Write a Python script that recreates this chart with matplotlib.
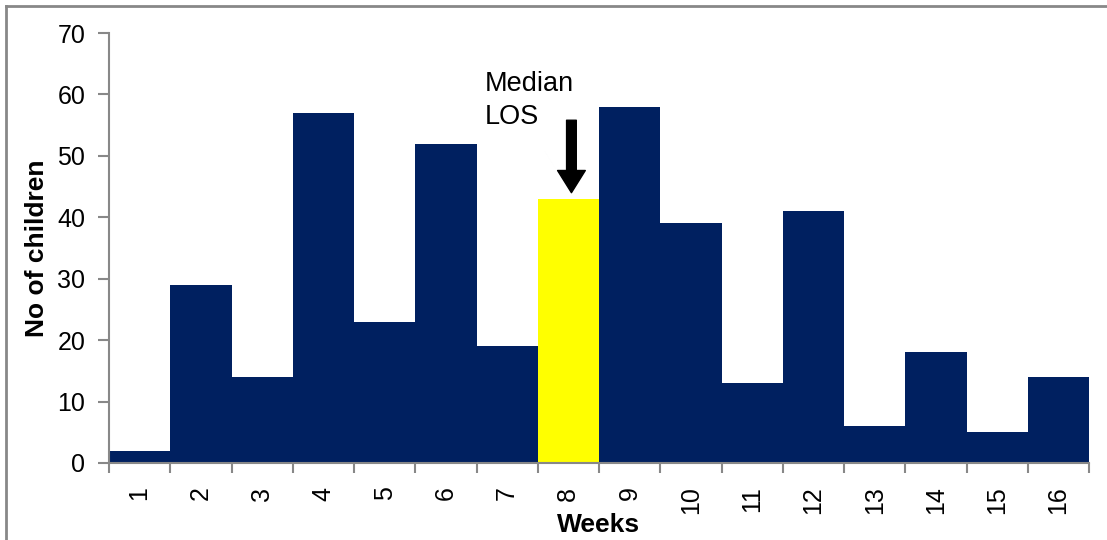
import matplotlib
matplotlib.use("Agg")
import matplotlib.pyplot as plt
from matplotlib.lines import Line2D

weeks = [str(i) for i in range(1, 17)]
children = [2, 29, 14, 57, 23, 52, 19, 43, 58, 39, 13, 41, 6, 18, 5, 14]
highlight_week = "8"
navy = "#002060"
yellow = "#FFFF00"

plt.rcParams['font.family'] = ['Liberation Sans', 'DejaVu Sans']

fig = plt.figure(figsize=(11.07, 5.40), dpi=100)
ax = fig.add_axes([109/1107, 1-463/540, 980/1107, 430/540])

xs = list(range(1, len(weeks) + 1))
colors = [yellow if w == highlight_week else navy for w in weeks]
ax.bar(xs, children, width=1.0, color=colors, edgecolor='none', linewidth=0)

ax.set_xlim(0.5, len(weeks) + 0.5)
ax.set_ylim(0, 70)
ax.set_yticks(range(0, 71, 10))
ax.tick_params(axis='y', labelsize=18, colors='#888888', labelcolor='black', length=8, width=1.5, pad=9)

ax.set_xticks(xs)
ax.set_xticklabels(weeks, rotation=90, fontsize=18)
ax.tick_params(axis='x', which='major', length=0, pad=17)
ax.set_xticks([x + 0.5 for x in range(0, len(weeks) + 1)], minor=True)
ax.tick_params(axis='x', which='minor', length=7, width=1.5, color='#888888')

for s in ['top', 'right']:
    ax.spines[s].set_visible(False)
for s in ['left', 'bottom']:
    ax.spines[s].set_color('#888888')
    ax.spines[s].set_linewidth(1.5)

ax.set_ylabel('No of children', fontsize=19, fontweight='bold', labelpad=6)
ax.set_xlabel('Weeks', fontsize=19, fontweight='bold', labelpad=-1)

ax.annotate('', xy=(8.05, 44.0), xytext=(8.05, 55.8),
            arrowprops=dict(width=7, headwidth=20, headlength=16, facecolor='black', edgecolor='black', shrink=0))
ax.text(6.64, 63.8, 'Median\nLOS', fontsize=19.5, ha='left', va='top', linespacing=1.35)

# outer border
fig.add_artist(Line2D([6/1107, 6/1107], [0, 1-6/540], transform=fig.transFigure, color='#888888', lw=2))
fig.add_artist(Line2D([6/1107, 1106/1107], [1-6/540, 1-6/540], transform=fig.transFigure, color='#888888', lw=2))

fig.savefig('out.png', dpi=100)
